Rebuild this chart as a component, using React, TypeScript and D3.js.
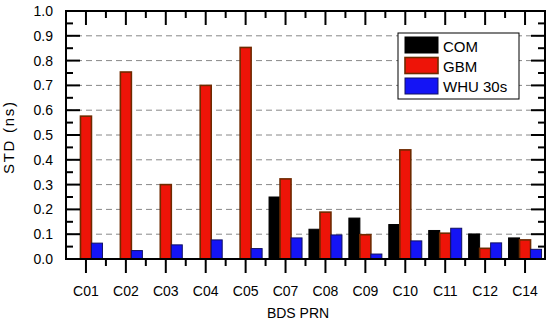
import * as d3 from 'd3'

const categories = ['C01', 'C02', 'C03', 'C04', 'C05', 'C07', 'C08', 'C09', 'C10', 'C11', 'C12', 'C14']
const comValues: (number | null)[] = [null, null, null, null, null, 0.25, 0.12, 0.165, 0.139, 0.115, 0.101, 0.085]
const gbmValues: (number | null)[] = [0.576, 0.754, 0.3, 0.7, 0.853, 0.323, 0.189, 0.098, 0.44, 0.104, 0.043, 0.077]
const whuValues: (number | null)[] = [0.064, 0.034, 0.057, 0.077, 0.042, 0.085, 0.097, 0.02, 0.073, 0.124, 0.065, 0.039]
const seriesNames = ['COM', 'GBM', 'WHU 30s']
const yTickValues = [0, 0.1, 0.2, 0.3, 0.4, 0.5, 0.6, 0.7, 0.8, 0.9, 1.0]

const W = 550
const H = 325
const left = 66
const right = 545
const top = 11
const bottom = 259
const font = 'Arial, "Liberation Sans", sans-serif'

const fills = ['#000000', '#ee1408', '#1414f5']
const strokes = ['#000000', '#6e2a00', '#101060']

export default function App() {
  const x = d3.scaleBand().domain(categories).range([left, right]).padding(0)
  const y = d3.scaleLinear().domain([0, 1]).range([bottom, top])
  const barW = 11
  const offsets = [-barW * 1.5, -barW / 2, barW / 2]
  const series = [comValues, gbmValues, whuValues]
  const minorY = d3.range(0.05, 1, 0.1)
  const boundaries = categories.slice(1).map(c => x(c)!)

  return (
    <svg
      width={W}
      height={H}
      style={{ position: 'absolute', left: 0, top: 0, background: '#fff' }}
      fontFamily={font}
    >
      {/* grid */}
      {yTickValues.slice(1, -1).map(v => (
        <line
          key={v}
          x1={left}
          x2={right}
          y1={y(v)}
          y2={y(v)}
          stroke="#888"
          strokeDasharray="6,4"
        />
      ))}

      {/* bars */}
      {categories.map((c, i) => (
        <g key={c}>
          {series.map((s, k) => {
            const v = s[i]
            if (v == null) return null
            const cx = x(c)! + x.bandwidth() / 2
            return (
              <rect
                key={k}
                x={cx + offsets[k]}
                y={y(v)}
                width={barW}
                height={bottom - y(v)}
                fill={fills[k]}
                stroke={strokes[k]}
                strokeWidth={k === 1 ? 1.6 : 1}
              />
            )
          })}
        </g>
      ))}

      {/* y ticks left & right */}
      {yTickValues.map(v => (
        <g key={v}>
          <line x1={left} x2={left + 14} y1={y(v)} y2={y(v)} stroke="#000" strokeWidth={2} />
          <line x1={right} x2={right - 14} y1={y(v)} y2={y(v)} stroke="#000" strokeWidth={2} />
          <text x={53} y={y(v) + 5} fontSize={14} textAnchor="end" fill="#000">
            {d3.format('.1f')(v)}
          </text>
        </g>
      ))}
      {minorY.map(v => (
        <g key={v}>
          <line x1={left} x2={left + 7} y1={y(v)} y2={y(v)} stroke="#000" strokeWidth={2} />
          <line x1={right} x2={right - 7} y1={y(v)} y2={y(v)} stroke="#000" strokeWidth={2} />
        </g>
      ))}

      {/* x ticks top & bottom */}
      {categories.map(c => {
        const cx = x(c)! + x.bandwidth() / 2
        return (
          <g key={c}>
            <line x1={cx} x2={cx} y1={top} y2={top + 14} stroke="#000" strokeWidth={2} />
            <line x1={cx} x2={cx} y1={bottom} y2={bottom + 14} stroke="#000" strokeWidth={2} />
            <text x={cx} y={296} fontSize={14} textAnchor="middle" fill="#000">
              {c}
            </text>
          </g>
        )
      })}
      {boundaries.map((bx, i) => (
        <g key={i}>
          <line x1={bx} x2={bx} y1={top} y2={top + 7} stroke="#000" strokeWidth={2} />
          <line x1={bx} x2={bx} y1={bottom} y2={bottom + 7} stroke="#000" strokeWidth={2} />
        </g>
      ))}

      {/* frame */}
      <rect
        x={left}
        y={top}
        width={right - left}
        height={bottom - top}
        fill="none"
        stroke="#000"
        strokeWidth={2}
      />

      {/* axis titles */}
      <text x={298} y={318} fontSize={14} textAnchor="middle" fill="#000">
        BDS PRN
      </text>
      <text
        transform={`translate(14,138) rotate(-90)`}
        fontSize={15}
        textAnchor="middle"
        textLength={72}
        lengthAdjust="spacing"
        fill="#000"
      >
        STD (ns)
      </text>

      {/* legend */}
      <g>
        <rect x={398} y={33} width={121} height={66} fill="#fff" stroke="#000" strokeWidth={1} />
        {seriesNames.map((name, k) => (
          <g key={name}>
            <rect
              x={405}
              y={37 + k * 20.5}
              width={33}
              height={16}
              fill={fills[k]}
              stroke={strokes[k]}
              strokeWidth={k === 1 ? 1.6 : 1}
            />
            <text x={443} y={51.5 + k * 20} fontSize={15} fill="#000">
              {name}
            </text>
          </g>
        ))}
      </g>
    </svg>
  )
}
